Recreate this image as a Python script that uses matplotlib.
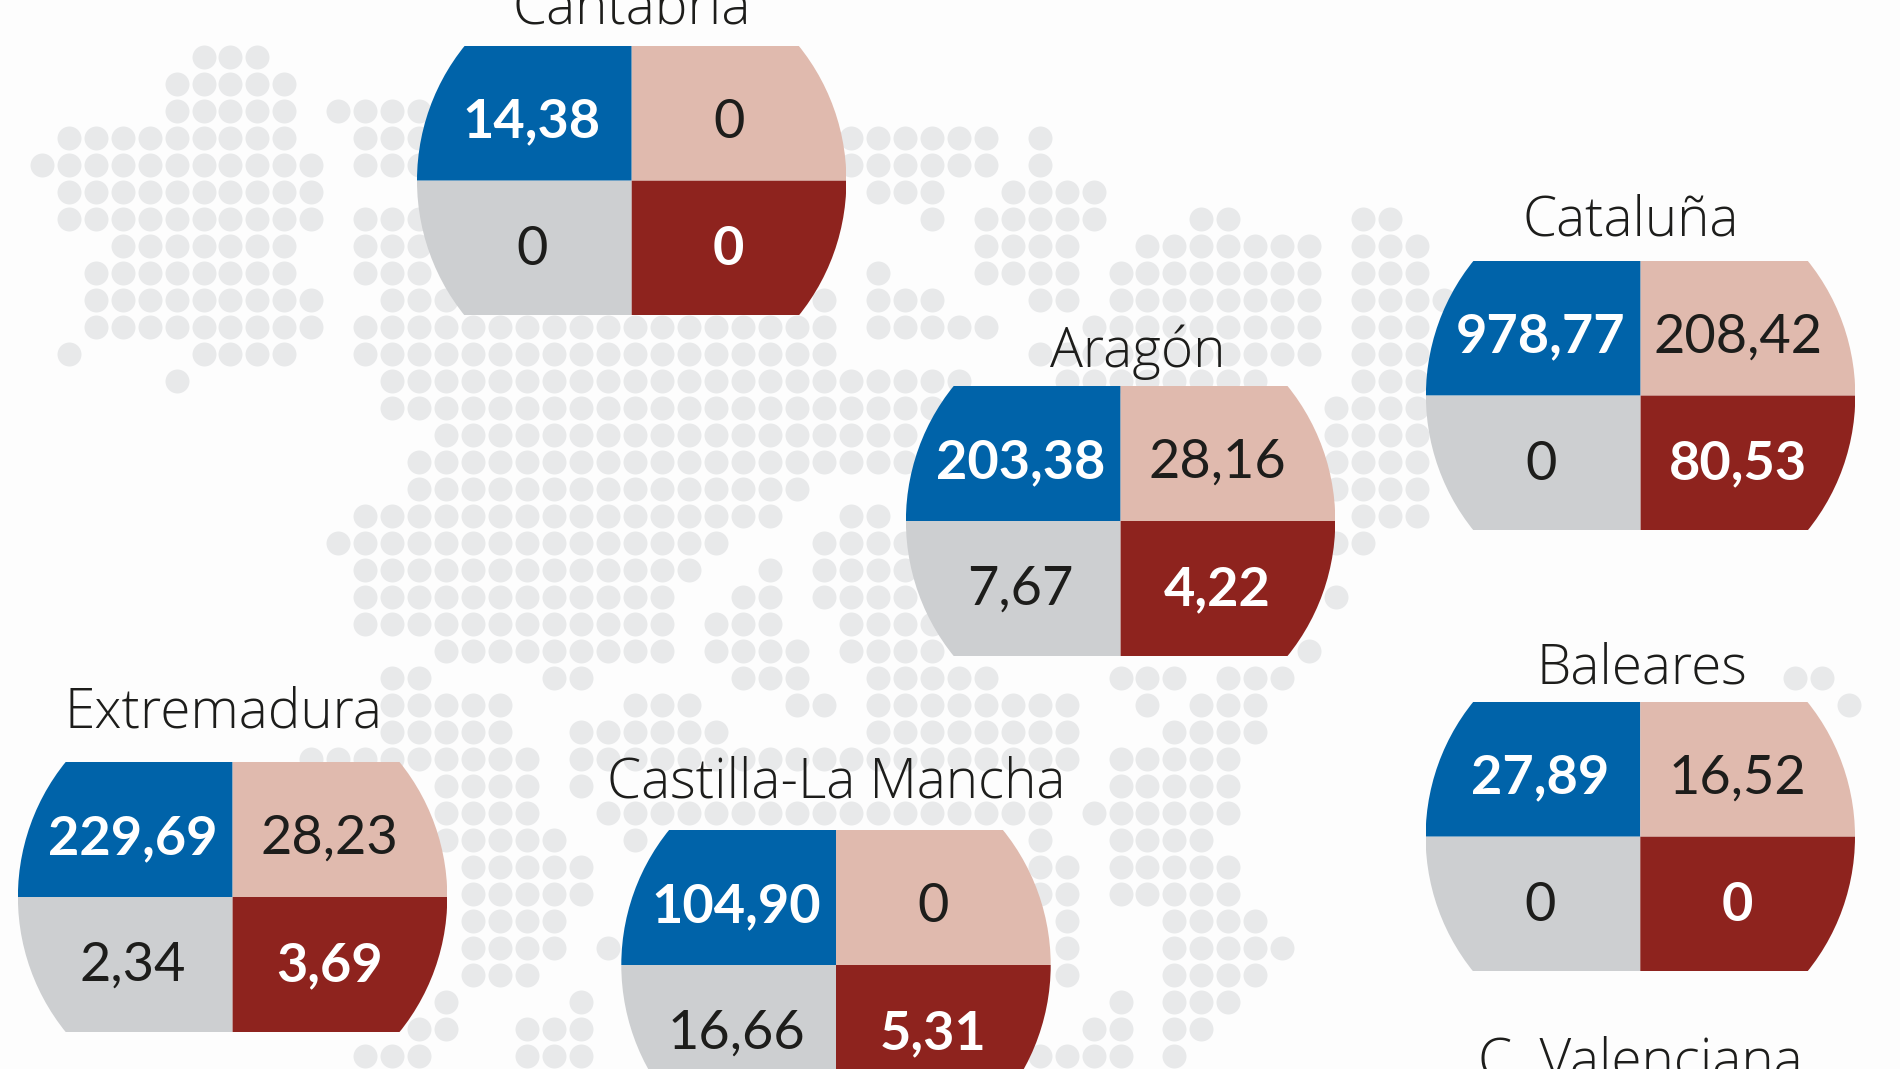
#!/usr/bin/env python3
"""Regional figures drawn as four-colour badges over a dotted map of Spain."""

import matplotlib
matplotlib.use("Agg")
import matplotlib.pyplot as plt
from matplotlib.patches import Rectangle, Wedge

TITLE_FONT = "Open Sans"
VALUE_FONT = "Lato"

REGIONS = ["Cantabria", "Aragón", "Cataluña", "Baleares",
           "Extremadura", "Castilla-La Mancha"]
BLUE_VALUES = [14.38, 203.38, 978.77, 27.89, 229.69, 104.90]
SALMON_VALUES = [0, 28.16, 208.42, 16.52, 28.23, 0]
GREY_VALUES = [0, 7.67, 0, 0, 2.34, 16.66]
RED_VALUES = [0, 4.22, 80.53, 0, 3.69, 5.31]

# badge centres and title anchors, in image pixels
CENTER_X = [631.7, 1120.6, 1640.6, 1640.3, 232.6, 836.0]
CENTER_Y = [180.7, 521.0, 395.6, 836.7, 897.0, 965.0]
TITLE_X = [631.7, 1138.0, 1631.0, 1641.5, 223.0, 836.0]
TITLE_Y = [23, 367, 235, 683, 727, 798]

# the last region is cut off by the bottom of the image, only its title shows
CROPPED_TITLE = "C. Valenciana"
CROPPED_TITLE_X = 1640
CROPPED_TITLE_Y = 1078

# dotted map: column ranges that hold a dot, one list per row
MAP_ROWS = [
    [(6, 8)],
    [(5, 9)],
    [(5, 9), (11, 14)],
    [(1, 9), (12, 14), (30, 35), (37, 37)],
    [(0, 10), (12, 14), (30, 35), (37, 37)],
    [(1, 10), (31, 33), (36, 39)],
    [(1, 10), (12, 14), (33, 33), (35, 39), (43, 44), (49, 50)],
    [(3, 9), (12, 14), (35, 38), (41, 47), (49, 51)],
    [(2, 9), (12, 14), (31, 31), (35, 38), (40, 47), (49, 51)],
    [(2, 10), (13, 15), (29, 29), (31, 33), (37, 38), (40, 47), (49, 52)],
    [(2, 10), (12, 29), (31, 35), (39, 47), (49, 51)],
    [(1, 1), (6, 9), (12, 29), (37, 47), (49, 51)],
    [(5, 5), (13, 34), (38, 45), (49, 51)],
    [(13, 33), (48, 51)],
    [(15, 32), (48, 51)],
    [(14, 32), (48, 51)],
    [(14, 28), (48, 51)],
    [(12, 27), (30, 31), (49, 51)],
    [(11, 25), (29, 32), (48, 49)],
    [(12, 24), (27, 27), (29, 32)],
    [(12, 23), (26, 27), (29, 32), (48, 48)],
    [(12, 23), (25, 27), (30, 33)],
    [(15, 23), (25, 28), (30, 33), (47, 47)],
    [(13, 14), (19, 20), (26, 28), (31, 35), (40, 42), (44, 46), (65, 66)],
    [(13, 17), (22, 24), (28, 29), (31, 38), (41, 41), (43, 45), (67, 67)],
    [(13, 17), (20, 25), (31, 38), (42, 45)],
    [(10, 18), (20, 38), (40, 44)],
    [(15, 18), (20, 20), (40, 44)],
    [(15, 18), (21, 37), (39, 44)],
    [(15, 19), (22, 22), (37, 37), (40, 43)],
    [(16, 20), (37, 38), (40, 44)],
    [(16, 20), (37, 38), (40, 44)],
    [(16, 19), (38, 38), (42, 45)],
    [(16, 19), (21, 21), (38, 38), (42, 46)],
    [(16, 18), (38, 38), (42, 45)],
    [(15, 15), (20, 20), (40, 40), (42, 44)],
    [(14, 15), (18, 20), (39, 40), (42, 43)],
    [(12, 14), (18, 20), (37, 40), (42, 42)],
]

DOT_X0, DOT_Y0, DOT_PITCH_X, DOT_PITCH_Y = 41.7, 57.0, 26.97, 27.0
DOT_COLOR = "#e8e9ea"
BACKGROUND = "#fdfdfd"

BADGE_RADIUS = 214.7
BADGE_HALF_HEIGHT = 134.6
BLUE, SALMON, GREY, RED = "#0063a9", "#e0baae", "#cdcfd1", "#8e231e"
DARK_TEXT = "#1d1d1b"


def format_value(value):
    # zero is written bare, everything else with a decimal comma
    if value == 0:
        return "0"
    return f"{value:.2f}".replace(".", ",")


def draw_map(ax):
    xs, ys = [], []
    for row, spans in enumerate(MAP_ROWS):
        for start, end in spans:
            for col in range(start, end + 1):
                xs.append(DOT_X0 + col * DOT_PITCH_X)
                ys.append(DOT_Y0 + row * DOT_PITCH_Y)
    ax.scatter(xs, ys, s=298, color=DOT_COLOR, linewidths=0, zorder=1)


def draw_badge(ax, cx, cy, values):
    clip = Rectangle((cx - BADGE_RADIUS, cy - BADGE_HALF_HEIGHT),
                     2 * BADGE_RADIUS, 2 * BADGE_HALF_HEIGHT,
                     transform=ax.transData)
    # y axis points down, so the angles run clockwise on screen
    quadrants = [
        (180, 270, BLUE, -100, -63, "white", 700),
        (270, 360, SALMON, 97, -63, DARK_TEXT, 400),
        (90, 180, GREY, -100, 64, DARK_TEXT, 400),
        (0, 90, RED, 97, 64, "white", 700),
    ]
    for value, (a1, a2, color, dx, dy, text_color, weight) in zip(values, quadrants):
        wedge = Wedge((cx, cy), BADGE_RADIUS, a1, a2, facecolor=color,
                      edgecolor="none", zorder=2)
        ax.add_patch(wedge)
        wedge.set_clip_path(clip)
        ax.text(cx + dx, cy + dy, format_value(value), color=text_color,
                fontsize=39, fontweight=weight, family=VALUE_FONT,
                ha="center", va="center_baseline", zorder=3)


def main():
    fig = plt.figure(figsize=(19, 10.69), dpi=100, facecolor=BACKGROUND)
    ax = fig.add_axes([0, 0, 1, 1])
    ax.set_xlim(0, 1900)
    ax.set_ylim(1069, 0)
    ax.axis("off")

    draw_map(ax)

    for i, region in enumerate(REGIONS):
        values = (BLUE_VALUES[i], SALMON_VALUES[i], GREY_VALUES[i], RED_VALUES[i])
        draw_badge(ax, CENTER_X[i], CENTER_Y[i], values)
        ax.text(TITLE_X[i], TITLE_Y[i], region, color=DARK_TEXT, fontsize=39.5,
                fontweight=300, family=TITLE_FONT, ha="center", va="baseline",
                zorder=3)

    ax.text(CROPPED_TITLE_X, CROPPED_TITLE_Y, CROPPED_TITLE, color=DARK_TEXT,
            fontsize=39.5, fontweight=300, family=TITLE_FONT, ha="center",
            va="baseline", zorder=3)

    fig.savefig("out.png", dpi=100, facecolor=BACKGROUND)


if __name__ == "__main__":
    main()
